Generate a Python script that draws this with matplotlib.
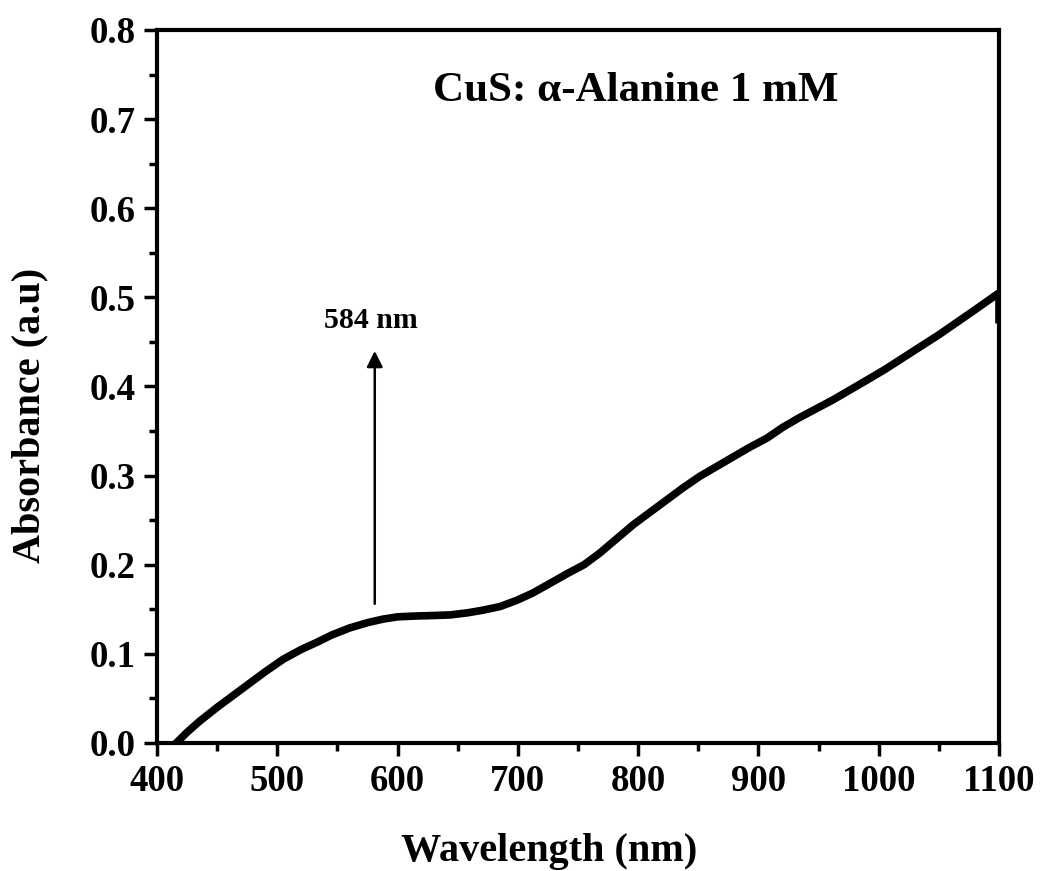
import matplotlib
matplotlib.use('Agg')
import matplotlib.pyplot as plt
import numpy as np

# absorbance spectrum
wavelength = [416, 425, 435, 450, 465, 477, 490, 505, 520, 533, 545, 560, 575, 588,
              600, 616, 630, 644, 658, 671, 685, 699, 712, 724, 741, 755, 768, 782,
              796, 810, 824, 837, 851, 865, 879, 893, 907, 920, 934, 948, 962, 976,
              990, 1005, 1020, 1035, 1050, 1065, 1080, 1100, 1100]
absorbance = [0.0, 0.012, 0.024, 0.040, 0.055, 0.067, 0.080, 0.094, 0.105, 0.113,
              0.121, 0.129, 0.135, 0.139, 0.1415, 0.1425, 0.143, 0.1437, 0.146, 0.149,
              0.153, 0.160, 0.168, 0.177, 0.190, 0.200, 0.213, 0.229, 0.245, 0.259,
              0.273, 0.286, 0.299, 0.310, 0.321, 0.332, 0.342, 0.354, 0.365, 0.375,
              0.385, 0.396, 0.407, 0.419, 0.432, 0.445, 0.458, 0.472, 0.486, 0.505,
              0.475]

peak_label = '584 nm'
title_text = 'CuS: α-Alanine 1 mM'

plt.rcParams['font.family'] = ['Liberation Serif', 'DejaVu Serif']
plt.rcParams['font.weight'] = 'bold'

fig = plt.figure(figsize=(10.4, 8.71), dpi=100)
ax = fig.add_axes([0.151, 0.147, 0.8096, 0.8186])

ax.plot(wavelength, absorbance, color='black', lw=5.5, solid_joinstyle='round')

ax.annotate('', xy=(581, 0.443), xytext=(581, 0.153),
            arrowprops=dict(arrowstyle='-|>', color='black', lw=1.8, mutation_scale=24))
ax.text(578, 0.466, peak_label, ha='center', va='baseline', fontsize=21.5, fontweight='bold')
ax.text(798, 0.7205, title_text, ha='center', va='baseline', fontsize=31, fontweight='bold')

ax.set_xlim(400, 1100)
ax.set_ylim(0, 0.8)
ax.set_xticks(np.arange(400, 1101, 100))
ax.set_xticks(np.arange(450, 1100, 100), minor=True)
ax.set_yticks(np.arange(0, 0.81, 0.1))
ax.set_yticks(np.arange(0.05, 0.8, 0.1), minor=True)
ax.set_yticklabels([f'{v:.1f}' for v in np.arange(0, 0.81, 0.1)])

ax.tick_params(axis='both', which='major', direction='out', length=9.5, width=2.5,
               labelsize=26.5, pad=6)
ax.tick_params(axis='both', which='minor', direction='out', length=5.5, width=2.5)
for s in ax.spines.values():
    s.set_linewidth(3)

ax.set_xlabel('Wavelength (nm)', fontsize=29, fontweight='bold')
ax.set_ylabel('Absorbance (a.u)', fontsize=29, fontweight='bold')
ax.xaxis.set_label_coords(0.4656, -0.126)
ax.yaxis.set_label_coords(-0.129, 0.46)

fig.savefig('out.png', dpi=100)
